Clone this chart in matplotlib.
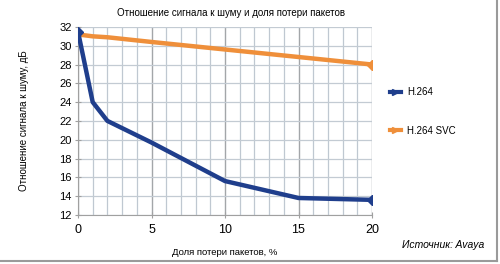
import matplotlib.pyplot as plt
from matplotlib.lines import Line2D
from matplotlib.ticker import MultipleLocator

# данные графика
loss = [0, 1, 2, 5, 10, 15, 20]
h264 = [31.5, 24.0, 22.0, 19.7, 15.6, 13.8, 13.6]
h264_svc = [31.2, 31.0, 30.9, 30.4, 29.6, 28.8, 28.0]
series_names = ['H.264', 'H.264 SVC']
y_ticks = [12, 14, 16, 18, 20, 22, 24, 26, 28, 30, 32]
x_ticks = [0, 5, 10, 15, 20]

plt.rcParams['font.family'] = ['Liberation Sans Narrow', 'Liberation Sans', 'DejaVu Sans']

blue = '#1f3e8c'
orange = '#ef8f3a'

fig = plt.figure(figsize=(5, 2.64), dpi=100)
ax = fig.add_axes([0.156, 0.186, 0.588, 0.712])

ax.plot(loss, h264, color=blue, lw=3.2, marker='D', ms=5, markevery=[0, -1],
        solid_joinstyle='round', zorder=4)
ax.plot(loss, h264_svc, color=orange, lw=3.2, marker='D', ms=5, markevery=[-1],
        solid_joinstyle='round', zorder=3)

ax.set_xlim(0, 20)
ax.set_ylim(12, 32)
ax.set_xticks(x_ticks)
ax.xaxis.set_minor_locator(MultipleLocator(1))
ax.set_yticks(y_ticks)
for s in ['top', 'right']:
    ax.spines[s].set_visible(False)
ax.spines['left'].set_color('#a0a0a0')
ax.spines['bottom'].set_color('#a0a0a0')
ax.tick_params(which='major', length=5, color='#a0a0a0', labelsize=8, pad=2)
ax.tick_params(which='minor', length=0)
ax.tick_params(axis='x', which='major', direction='inout', labelsize=9, pad=4)
ax.tick_params(axis='y', which='major', direction='inout')
ax.grid(which='minor', axis='x', color='#bfc8d1', lw=0.9)
ax.grid(which='major', axis='x', color='#a3a6a9', lw=1.0)
ax.grid(which='major', axis='y', color='#c3cbd3', lw=0.9)
ax.set_axisbelow(True)

ax.set_title('Отношение сигнала к шуму и доля потери пакетов', fontsize=7,
             x=0.52, pad=8)
ax.set_ylabel('Отношение сигнала к шуму, дБ', fontsize=7, labelpad=22)
ax.set_xlabel('Доля потери пакетов, %', fontsize=6.8, labelpad=9)

handles = [Line2D([], [], color=blue, lw=3, marker='>', ms=5),
           Line2D([], [], color=orange, lw=3, marker='>', ms=5)]
leg = ax.legend(handles, series_names, loc='center left', bbox_to_anchor=(1.03, 0.55),
                frameon=False, fontsize=7, handlelength=1.2, labelspacing=2.9,
                numpoints=1, markerfirst=True, handletextpad=0.6)

fig.text(0.968, 0.06, 'Источник: Avaya', fontsize=7.5, style='italic', ha='right')

# рамка с тенью справа и снизу
fig.add_artist(Line2D([0.993, 0.993], [0.01, 1.0], color='#9a9a9a', lw=1.5))
fig.add_artist(Line2D([0.0, 0.993], [0.012, 0.012], color='#9a9a9a', lw=1.5))

fig.savefig('out.png', dpi=100)
